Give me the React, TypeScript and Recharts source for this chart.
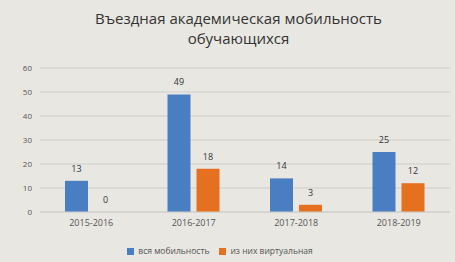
import { BarChart, Bar, XAxis, YAxis, CartesianGrid, Legend, Rectangle } from "recharts";

const years = ["2015-2016", "2016-2017", "2017-2018", "2018-2019"];
const allMobility = [13, 49, 14, 25];
const virtualMobility = [0, 18, 3, 12];
const yTicks = [0, 10, 20, 30, 40, 50, 60];

const data = years.map((year, i) => ({
  year,
  all: allMobility[i],
  virtual: virtualMobility[i],
}));

const BLUE = "#4a7ec2";
const ORANGE = "#e5701f";

// draw value labels ourselves so a zero-height bar still gets its "0"
const renderLabel = (props: any) => {
  const { x, y, width, height, value } = props;
  const top = value === 0 ? y + height : y;
  return (
    <text x={x + width / 2} y={top - 9} textAnchor="middle" fill="#333" fontSize={9}>
      {value}
    </text>
  );
};

// a zero bar gets a min height so it exists, but draws nothing
const renderShape = (props: any) => {
  if (props.value === 0 || (Array.isArray(props.value) && props.value[1] === 0)) return <g />;
  return <Rectangle {...props} />;
};

export default function App() {
  return (
    <div
      style={{
        position: "fixed",
        left: 0,
        top: 0,
        width: 455,
        height: 262,
        background: "#e8e7e2",
        fontFamily: "'Open Sans', sans-serif",
      }}
    >
      <div
        style={{
          position: "absolute",
          top: 8,
          left: 0,
          width: 477,
          textAlign: "center",
          fontSize: 15,
          lineHeight: "20px",
          color: "#333",
        }}
      >
        Въездная академическая мобильность
        <br />
        обучающихся
      </div>
      <BarChart
        width={455}
        height={262}
        data={data}
        margin={{ top: 68, right: 5, left: 0, bottom: 0 }}
        barSize={23}
        barGap={6}
        barCategoryGap={25}
      >
        <CartesianGrid vertical={false} stroke="#cfcecb" strokeWidth={1} />
        <XAxis
          dataKey="year"
          height={26}
          axisLine={{ stroke: "#cfcecb" }}
          tickLine={false}
          tick={{ fill: "#555", fontSize: 9 }}
        />
        <YAxis
          width={40}
          domain={[0, 60]}
          ticks={yTicks}
          axisLine={false}
          tickLine={false}
          tick={{ fill: "#555", fontSize: 8 }}
        />
        <Legend
          height={24}
          iconType="square"
          iconSize={7}
          wrapperStyle={{ fontSize: 8.5, color: "#555", top: 245 }}
          formatter={(v) => <span style={{ color: "#555" }}>{v}</span>}
        />
        <Bar
          dataKey="all"
          name="вся мобильность"
          fill={BLUE}
          isAnimationActive={false}
          label={renderLabel}
        />
        <Bar
          dataKey="virtual"
          name="из них виртуальная"
          fill={ORANGE}
          isAnimationActive={false}
          minPointSize={1}
          shape={renderShape}
          label={renderLabel}
        />
      </BarChart>
    </div>
  );
}
